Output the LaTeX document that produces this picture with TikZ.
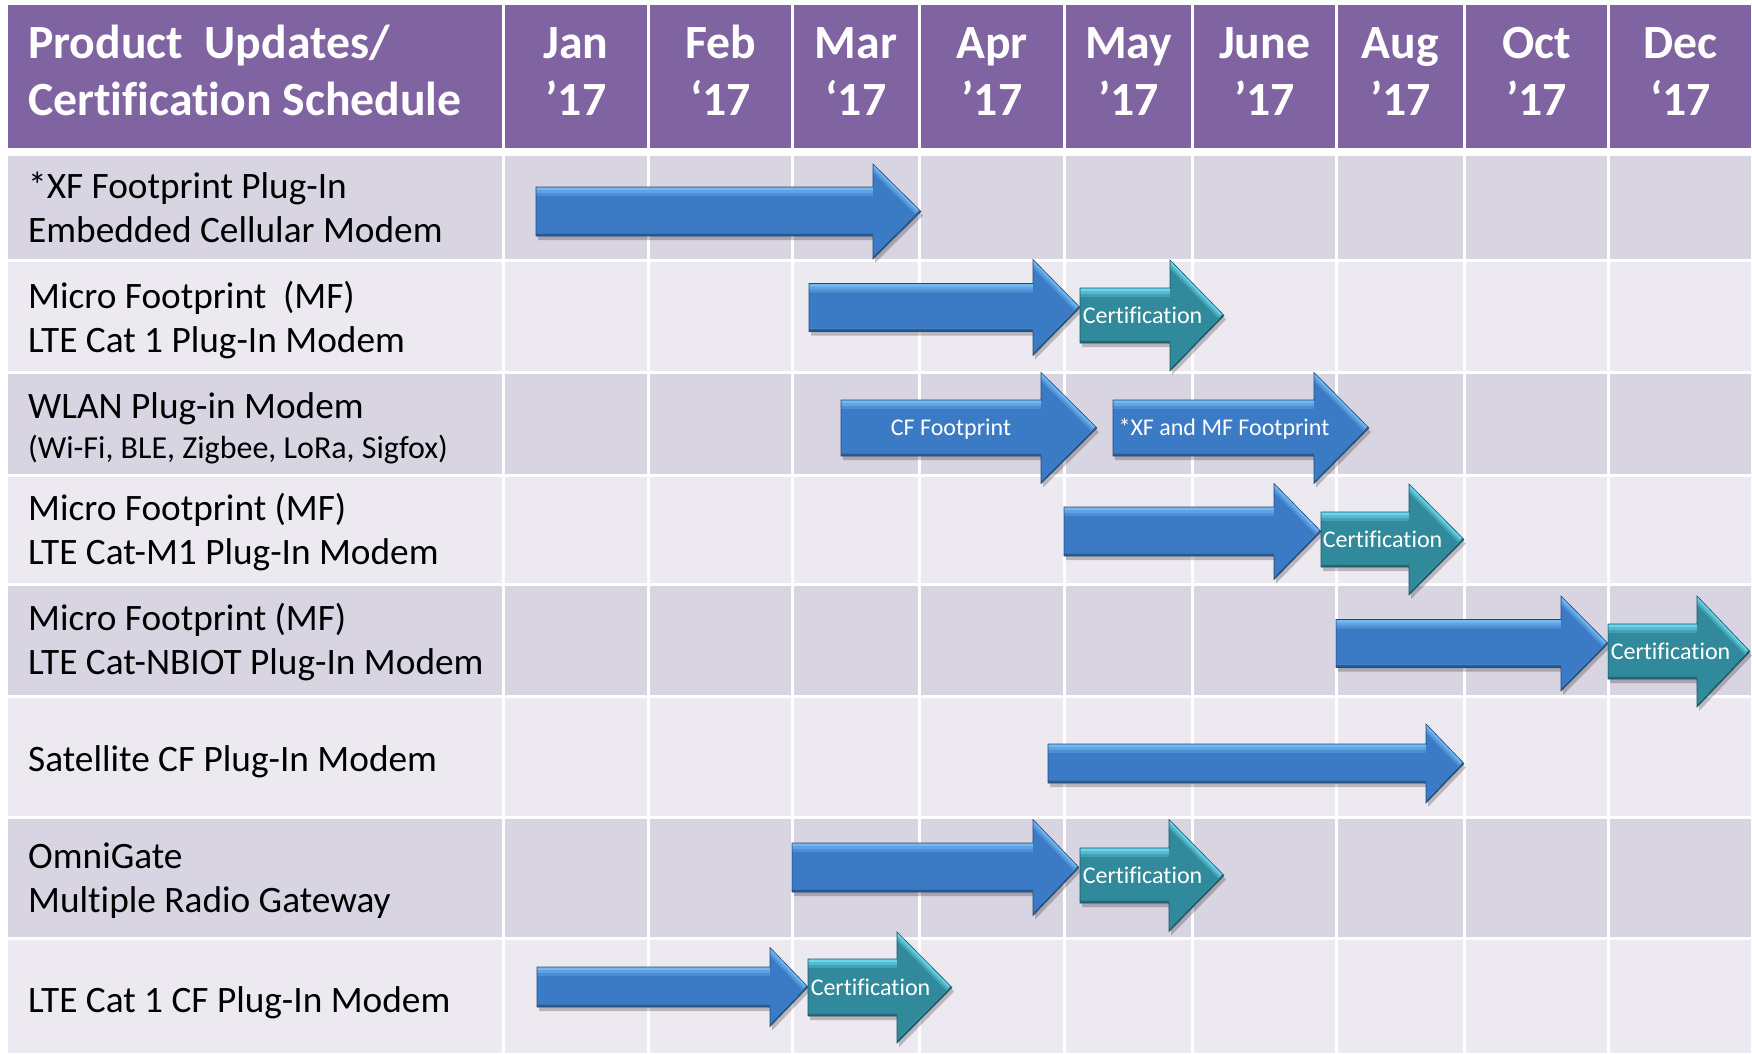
\documentclass[tikz,border=0pt]{standalone}
\usepackage{fontspec}
\setmainfont[Ligatures=NoCommon]{Carlito}
\definecolor{hdrpurple}{HTML}{8064A2}
\definecolor{rowA}{HTML}{D8D4E2}
\definecolor{rowB}{HTML}{ECEAF0}
\definecolor{bluemain}{HTML}{3B7BC6}
\definecolor{bluelight}{HTML}{74B8F2}
\definecolor{bluedark}{HTML}{2C5B93}
\definecolor{tealmain}{HTML}{318A9C}
\definecolor{teallight}{HTML}{6AD6EA}
\definecolor{tealdark}{HTML}{22687A}
\newcommand{\bevelarrow}[7]{%
  % #1 colour prefix, #2 left x, #3 head base x, #4 tip x, #5 centre y, #6 body half, #7 head half
  \fill[black,opacity=0.22] (#2+2,#5-#6+4) -- (#3+2,#5-#6+4) -- (#3+2,#5-#7+4) -- (#4+2,#5+4) -- (#3+2,#5+#7+4) -- (#3+2,#5+#6+4) -- (#2+2,#5+#6+4) -- cycle;
  \begin{scope}
    \clip (#2,#5-#6) -- (#3,#5-#6) -- (#3,#5-#7) -- (#4,#5) -- (#3,#5+#7) -- (#3,#5+#6) -- (#2,#5+#6) -- cycle;
    \fill[#1dark] (#2-1,#5-#7-1) rectangle (#4+1,#5+#7+1);
    \begin{scope}
      \clip (#2,#5-#6-3) -- (#3,#5-#6-3) -- (#3,#5-#7-3) -- (#4,#5-3) -- (#3,#5+#7-3) -- (#3,#5+#6-3) -- (#2,#5+#6-3) -- cycle;
      \fill[#1light] (#2-1,#5-#7-1) rectangle (#4+1,#5+#7+1);
      \fill[#1light!65!#1main] (#2,#5-#6+3) -- (#3,#5-#6+3) -- (#3,#5-#7+3) -- (#4,#5+3) -- (#3,#5+#7+3) -- (#3,#5+#6+3) -- (#2,#5+#6+3) -- cycle;
      \fill[#1light!30!#1main] (#2,#5-#6+6) -- (#3,#5-#6+6) -- (#3,#5-#7+6) -- (#4,#5+6) -- (#3,#5+#7+6) -- (#3,#5+#6+6) -- (#2,#5+#6+6) -- cycle;
      \fill[#1main] (#2,#5-#6+9) -- (#3,#5-#6+9) -- (#3,#5-#7+9) -- (#4,#5+9) -- (#3,#5+#7+9) -- (#3,#5+#6+9) -- (#2,#5+#6+9) -- cycle;
    \end{scope}
  \end{scope}
  \draw[#1dark!80!black, line width=0.6pt, line join=miter] (#2,#5-#6) -- (#3,#5-#6) -- (#3,#5-#7) -- (#4,#5) -- (#3,#5+#7) -- (#3,#5+#6) -- (#2,#5+#6) -- cycle;
}
\begin{document}
\begin{tikzpicture}[x=1pt,y=-1pt,
  hdrtext/.style={text=white, font=\fontsize{47.7}{57}\selectfont\bfseries, inner sep=0pt},
  lbl/.style={text=black, font=\fontsize{37.3}{44.5}\selectfont, inner sep=0pt, anchor=base west},
  atext/.style={text=white, font=\fontsize{24}{28}\selectfont, inner sep=0pt, anchor=base}]
\useasboundingbox (0,0) rectangle (1752,1053);
\fill[white] (0,0) rectangle (1752,1053);
% header and rows
\fill[hdrpurple] (8,5) rectangle (1751,147.5);
\fill[rowA] (8,156) rectangle (1751,259);
\fill[rowB] (8,262) rectangle (1751,371);
\fill[rowA] (8,374) rectangle (1751,474);
\fill[rowB] (8,477) rectangle (1751,583);
\fill[rowA] (8,586) rectangle (1751,695);
\fill[rowB] (8,698) rectangle (1751,816);
\fill[rowA] (8,819) rectangle (1751,937);
\fill[rowB] (8,940) rectangle (1751,1053);
\foreach \x in {503.5,648.5,792.5,919.5,1064.5,1192.5,1336.5,1464.5,1608.5}
  \draw[white, line width=2.6pt] (\x,0) -- (\x,1053);
% header texts
\node[hdrtext, anchor=base west] (title) at (28,58) {\begin{tabular}[t]{@{}l@{}}Product\ \ Updates/\\Certification Schedule\end{tabular}};
\node[hdrtext, anchor=base] (jan) at (576,58) {\begin{tabular}[t]{@{}c@{}}Jan\\’17\end{tabular}};
\node[hdrtext, anchor=base] (feb) at (720.5,58) {\begin{tabular}[t]{@{}c@{}}Feb\\‘17\end{tabular}};
\node[hdrtext, anchor=base] (mar) at (856,58) {\begin{tabular}[t]{@{}c@{}}Mar\\‘17\end{tabular}};
\node[hdrtext, anchor=base] (apr) at (992,58) {\begin{tabular}[t]{@{}c@{}}Apr\\’17\end{tabular}};
\node[hdrtext, anchor=base] (may) at (1128.5,58) {\begin{tabular}[t]{@{}c@{}}May\\’17\end{tabular}};
\node[hdrtext, anchor=base] (jun) at (1264.5,58) {\begin{tabular}[t]{@{}c@{}}June\\’17\end{tabular}};
\node[hdrtext, anchor=base] (aug) at (1400.5,58) {\begin{tabular}[t]{@{}c@{}}Aug\\’17\end{tabular}};
\node[hdrtext, anchor=base] (oct) at (1536.5,58) {\begin{tabular}[t]{@{}c@{}}Oct\\’17\end{tabular}};
\node[hdrtext, anchor=base] (dec) at (1680.5,58) {\begin{tabular}[t]{@{}c@{}}Dec\\‘17\end{tabular}};
% row labels
\node[lbl] (l1) at (28,198) {\begin{tabular}[t]{@{}l@{}}*XF Footprint Plug-In\\Embedded Cellular Modem\end{tabular}};
\node[lbl] (l2) at (28,308) {\begin{tabular}[t]{@{}l@{}}Micro Footprint\ \ (MF)\\LTE Cat 1 Plug-In Modem\end{tabular}};
\node[lbl] (l3) at (28,418) {\begin{tabular}[t]{@{}l@{}}WLAN Plug-in Modem\\[-4.5pt]{\fontsize{32}{38}\selectfont (Wi-Fi, BLE, Zigbee, LoRa, Sigfox)}\end{tabular}};
\node[lbl] (l4) at (28,520) {\begin{tabular}[t]{@{}l@{}}Micro Footprint (MF)\\LTE Cat-M1 Plug-In Modem\end{tabular}};
\node[lbl] (l5) at (28,630) {\begin{tabular}[t]{@{}l@{}}Micro Footprint (MF)\\LTE Cat-NBIOT Plug-In Modem\end{tabular}};
\node[lbl] (l6) at (28,771) {Satellite CF Plug-In Modem};
\node[lbl] (l7) at (28,868) {\begin{tabular}[t]{@{}l@{}}OmniGate\\Multiple Radio Gateway\end{tabular}};
\node[lbl] (l8) at (28,1012) {LTE Cat 1 CF Plug-In Modem};
% arrows
\bevelarrow{blue}{536}{873}{921}{211.5}{24.5}{47.5}
\bevelarrow{blue}{809}{1033}{1080}{307.5}{24}{48}
\bevelarrow{teal}{1080}{1170}{1224}{315.5}{27.5}{55.5}
\bevelarrow{blue}{841}{1041}{1097}{428}{28}{55.5}
\bevelarrow{blue}{1113}{1314}{1369}{428}{28}{55.5}
\bevelarrow{blue}{1064}{1274}{1321}{531.5}{24.5}{48}
\bevelarrow{teal}{1321}{1409}{1464}{539.5}{27.5}{55.5}
\bevelarrow{blue}{1336}{1561}{1608}{643.5}{24}{47.5}
\bevelarrow{teal}{1608}{1697}{1750}{651.5}{27.5}{55.5}
\bevelarrow{blue}{1048}{1426}{1464}{763.5}{19.5}{39.5}
\bevelarrow{blue}{792}{1033}{1079}{867.5}{24.5}{48}
\bevelarrow{teal}{1080}{1169}{1224}{875.5}{27.5}{56}
\bevelarrow{blue}{537}{770}{808}{987}{20}{39.5}
\bevelarrow{teal}{808}{897}{952}{987.5}{28.5}{55.5}
% arrow texts
\node[atext] (c2) at (1142.5,315.5+7.8) {Certification};
\node[atext] (cf3) at (951,428+7.8) {CF Footprint};
\node[atext] (xf3) at (1224,428+7.8) {*XF and MF Footprint};
\node[atext] (c4) at (1382.5,539.5+7.8) {Certification};
\node[atext] (c5) at (1670.5,651.5+7.8) {Certification};
\node[atext] (c7) at (1142.5,875.5+7.8) {Certification};
\node[atext] (c8) at (870.5,987.5+7.8) {Certification};
\end{tikzpicture}
\end{document}
